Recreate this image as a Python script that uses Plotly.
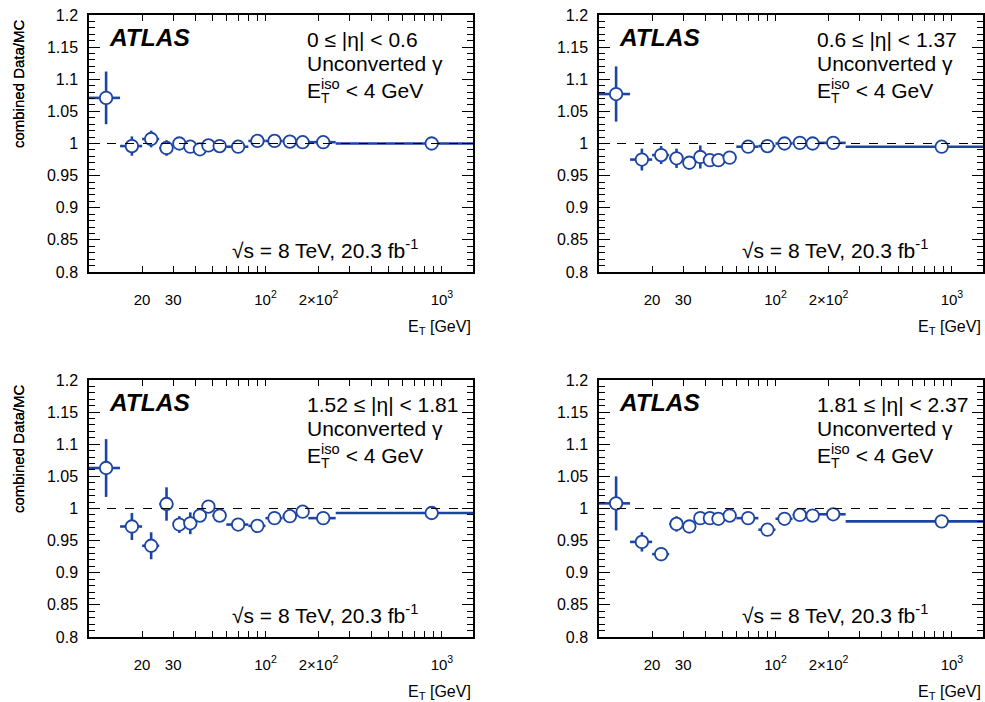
import math
import plotly.graph_objects as go

# ---------------- data ----------------
BIN_LO = [10, 15, 20, 25, 30, 35, 40, 45, 50, 60, 80, 100, 125, 150, 175, 250]
BIN_HI = [15, 20, 25, 30, 35, 40, 45, 50, 60, 80, 100, 125, 150, 175, 250, 1500]

RATIO_ETA1 = [1.071, 0.996, 1.007, 0.993, 1.000, 0.995, 0.991, 0.997, 0.996, 0.995,
              1.004, 1.004, 1.003, 1.002, 1.002, 1.000]
ERR_ETA1 = [0.041, 0.015, 0.013, 0.012, 0.006, 0.006, 0.006, 0.006, 0.005, 0.005,
            0.005, 0.005, 0.005, 0.005, 0.006, 0.005]

RATIO_ETA2 = [1.077, 0.975, 0.982, 0.977, 0.970, 0.979, 0.974, 0.974, 0.978, 0.995,
              0.996, 1.000, 1.001, 1.000, 1.001, 0.995]
ERR_ETA2 = [0.043, 0.017, 0.014, 0.015, 0.008, 0.018, 0.007, 0.007, 0.006, 0.006,
            0.006, 0.005, 0.005, 0.005, 0.006, 0.006]

RATIO_ETA3 = [1.063, 0.972, 0.942, 1.007, 0.975, 0.977, 0.989, 1.003, 0.989, 0.975,
              0.973, 0.985, 0.988, 0.995, 0.985, 0.993]
ERR_ETA3 = [0.045, 0.021, 0.021, 0.026, 0.013, 0.017, 0.009, 0.008, 0.007, 0.007,
            0.007, 0.006, 0.006, 0.006, 0.006, 0.006]

RATIO_ETA4 = [1.008, 0.948, 0.929, 0.976, 0.972, 0.985, 0.985, 0.984, 0.989, 0.985,
              0.967, 0.984, 0.990, 0.989, 0.991, 0.980]
ERR_ETA4 = [0.042, 0.015, 0.011, 0.012, 0.008, 0.007, 0.007, 0.007, 0.007, 0.006,
            0.006, 0.006, 0.006, 0.006, 0.006, 0.006]

ETA_LABELS = ["0 ≤ |η| < 0.6", "0.6 ≤ |η| < 1.37", "1.52 ≤ |η| < 1.81", "1.81 ≤ |η| < 2.37"]

X_RANGE = [10, 1500]
X_TICKS = [20, 30, 100, 200, 1000]
X_TICKTEXT = ["20", "30", "10<sup>2</sup>", "2×10<sup>2</sup>", "10<sup>3</sup>"]
X_MINOR = [40, 50, 60, 70, 80, 90, 300, 400, 500, 600, 700, 800, 900]
X_MAJOR_LONG = [100, 1000]

Y_RANGE = [0.8, 1.2]
Y_TICKS = [0.8, 0.85, 0.9, 0.95, 1.0, 1.05, 1.1, 1.15, 1.2]
Y_TICKTEXT = ["0.8", "0.85", "0.9", "0.95", "1", "1.05", "1.1", "1.15", "1.2"]
REF_LINE = 1.0

# ---------------- styling ----------------
BLUE = "#1c45a3"
FONT = "Liberation Sans, Arial, Helvetica, sans-serif"
W, H = 985, 702

# panel frames in pixels (left, right, top, bottom)
FRAMES = [(89, 473, 15, 272), (599, 983, 15, 272),
          (89, 473, 380, 637), (599, 983, 380, 637)]

centers = [(lo + hi) / 2 for lo, hi in zip(BIN_LO, BIN_HI)]
ex_plus = [hi - c for hi, c in zip(BIN_HI, centers)]
ex_minus = [c - lo for lo, c in zip(BIN_LO, centers)]

series = [(RATIO_ETA1, ERR_ETA1), (RATIO_ETA2, ERR_ETA2),
          (RATIO_ETA3, ERR_ETA3), (RATIO_ETA4, ERR_ETA4)]

fig = go.Figure()
layout = dict(
    template="none",
    width=W, height=H,
    margin=dict(l=0, r=0, t=0, b=0, pad=0, autoexpand=False),
    paper_bgcolor="white", plot_bgcolor="white",
    font=dict(family=FONT, color="black"),
    showlegend=False,
)
annotations = []
shapes = []

xr = [math.log10(X_RANGE[0]), math.log10(X_RANGE[1])]

for i, ((vals, errs), (l, r, t, b)) in enumerate(zip(series, FRAMES)):
    n = i + 1
    xk = "xaxis" if n == 1 else f"xaxis{n}"
    yk = "yaxis" if n == 1 else f"yaxis{n}"
    xref = "x" if n == 1 else f"x{n}"
    yref = "y" if n == 1 else f"y{n}"
    xdom = [l / W, r / W]
    ydom = [1 - b / H, 1 - t / H]

    fig.add_trace(go.Scatter(
        x=centers, y=vals, xaxis=xref, yaxis=yref, mode="markers",
        marker=dict(symbol="circle", size=12.5, color="white",
                    line=dict(color=BLUE, width=1.8)),
        error_x=dict(type="data", symmetric=False, array=ex_plus, arrayminus=ex_minus,
                     color=BLUE, thickness=2.6, width=0),
        error_y=dict(type="data", array=errs, color=BLUE, thickness=2.6, width=0),
        hoverinfo="skip",
    ))

    layout[xk] = dict(
        type="log", range=xr, domain=xdom, anchor=yref, automargin=False,
        showline=True, linecolor="black", linewidth=1.5, mirror="allticks",
        ticks="inside", ticklen=6, tickwidth=1.2, tickcolor="black",
        tickvals=X_TICKS, ticktext=X_TICKTEXT, ticklabeloverflow="allow",
        tickfont=dict(size=15, family=FONT, color="black"),
        ticklabelstandoff=13,
        showgrid=False, zeroline=False,
        minor=dict(tickvals=X_MINOR, ticks="inside", ticklen=6, tickwidth=1.2,
                   tickcolor="black", showgrid=False),
    )
    # overlay axis carrying the long decade ticks
    ok = f"xaxis{n + 4}"
    layout[ok] = dict(
        type="log", range=xr, overlaying=xref, anchor=yref, automargin=False,
        showline=False, mirror="allticks",
        ticks="inside", ticklen=11, tickwidth=1.2, tickcolor="black",
        tickvals=X_MAJOR_LONG, showticklabels=False,
        showgrid=False, zeroline=False,
    )
    layout[yk] = dict(
        range=Y_RANGE, domain=ydom, anchor=xref, automargin=False,
        showline=True, linecolor="black", linewidth=1.5, mirror="allticks",
        ticks="inside", ticklen=11, tickwidth=1.2, tickcolor="black",
        tickvals=Y_TICKS, ticktext=Y_TICKTEXT, ticklabeloverflow="allow",
        tickfont=dict(size=16, family=FONT, color="black"),
        ticklabelstandoff=6,
        showgrid=False, zeroline=False,
        minor=dict(dtick=0.01, tick0=0.8, ticks="inside", ticklen=6, tickwidth=1.2,
                   tickcolor="black", showgrid=False),
    )

    shapes.append(dict(type="line", xref=f"{xref} domain", yref=yref,
                       x0=0, x1=1, y0=REF_LINE, y1=REF_LINE, layer="above",
                       line=dict(color="black", width=1.2, dash="dash")))

    xd = f"{xref} domain"
    yd = f"{yref} domain"
    big = 21
    annotations += [
        dict(text="<b><i>ATLAS</i></b>", xref=xd, yref=yd, x=0.047, y=0.914,
             xanchor="left", yanchor="middle", showarrow=False,
             font=dict(size=24.5, family=FONT)),
        dict(text=ETA_LABELS[i], xref=xd, yref=yd, x=0.562, y=0.904,
             xanchor="left", yanchor="middle", showarrow=False,
             font=dict(size=big, family=FONT)),
        dict(text="Unconverted γ", xref=xd, yref=yd, x=0.562, y=0.811,
             xanchor="left", yanchor="middle", showarrow=False,
             font=dict(size=big, family=FONT)),
        dict(text="E<sup>iso</sup> < 4 GeV", xref=xd, yref=yd, x=0.562, y=0.712,
             xanchor="left", yanchor="middle", showarrow=False,
             font=dict(size=big, family=FONT)),
        dict(text="T", xref=xd, yref=yd, x=0.562, y=0.712, xshift=14, yshift=-9,
             xanchor="left", yanchor="middle", showarrow=False,
             font=dict(size=14, family=FONT)),
        dict(text="√s = 8 TeV, 20.3 fb<sup>-1</sup>", xref=xd, yref=yd, x=0.368, y=0.088,
             xanchor="left", yanchor="middle", showarrow=False,
             font=dict(size=big, family=FONT)),
        dict(text="E<sub>T</sub> [GeV]", xref=xd, yref=yd, x=1.0, y=-0.215,
             xanchor="right", yanchor="middle", showarrow=False,
             font=dict(size=16, family=FONT)),
        dict(text="combined Data/MC", xref="paper", yref=yd, x=18 / W,
             y=0.99, xanchor="center", yanchor="top", textangle=-90, showarrow=False,
             font=dict(size=15, family=FONT)),
    ]

layout["annotations"] = annotations
layout["shapes"] = shapes
fig.update_layout(**layout)
fig.write_html(
    "out.html",
    config={"displayModeBar": False},
    post_script="document.body.style.margin='0';document.body.style.overflow='hidden';",
)
